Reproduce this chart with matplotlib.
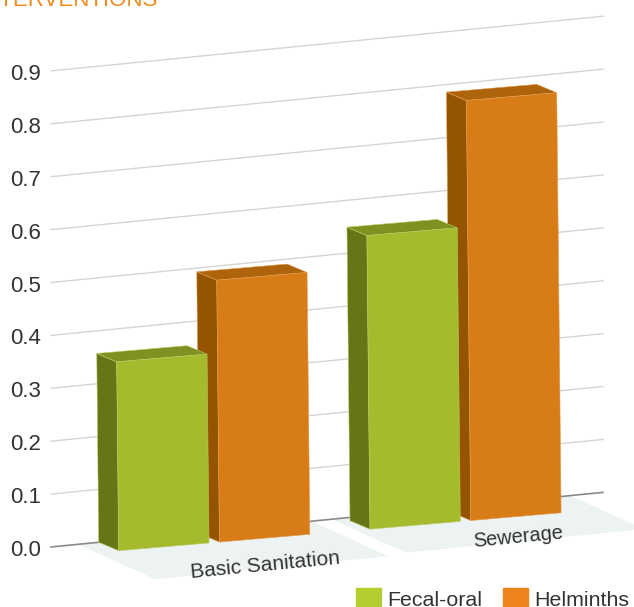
#!/usr/bin/env python
import numpy as np
import matplotlib.pyplot as plt
from matplotlib.patches import Patch
from matplotlib.transforms import ScaledTranslation

plt.rc('font', family=['Liberation Sans', 'DejaVu Sans'], size=15)

categories = ["Basic Sanitation", "Sewerage"]
fecal_oral = [0.357, 0.555]
helminths = [0.495, 0.794]
ticks = [0.0, 0.1, 0.2, 0.3, 0.4, 0.5, 0.6, 0.7, 0.8, 0.9]

# the fake 3d look, everything in figure pixels
W, H = 634, 607
ZERO_Y = 547.0     # pixel row of value 0 at the left end of the axis
PX_PER_UNIT = 529.0
GRID_SLOPE = 0.099
BAR_SLOPE = 0.0857
LEAN = 5.5
DX, DY = 20.0, 8.4
BAR_W = 90.3
group_x = [98.7, 350.0]
HELM_SHIFT = 100.8

fig = plt.figure(figsize=(W/100, H/100), dpi=100)
ax = fig.add_axes([0, 0, 1, 1])
ax.set_xlim(0, W)
ax.set_ylim((ZERO_Y-H)/PX_PER_UNIT, ZERO_Y/PX_PER_UNIT)
for s in ax.spines.values():
    s.set_visible(False)
ax.patch.set_alpha(0)

ax.set_xticks([])
ax.set_yticks(ticks)
ax.set_yticklabels(["%.1f" % t for t in ticks], color='#333333', fontsize=16)
ax.tick_params(axis='y', length=0, pad=-29.5)
# tick labels sit a pixel lower than the lines
nudge = ScaledTranslation(0, -1/72*0.75, fig.dpi_scale_trans)
for lab in ax.get_yticklabels():
    lab.set_transform(lab.get_transform() + nudge)


def wall(x, v):
    # point on the back wall
    return x, v + GRID_SLOPE*(x-51)/PX_PER_UNIT


def corner(x, v, d):
    # bar corner, d=0 at the back and d=1 at the front
    base = 542.3 - BAR_SLOPE*(x-group_x[0]) + d*DY
    return x + d*DX - LEAN*v, v + (ZERO_Y-base)/PX_PER_UNIT


def bar3d(x, v, front, side, top, edge):
    a = corner(x, 0, 0); b = corner(x, v, 0)
    c = corner(x+BAR_W, v, 0)
    e = corner(x, 0, 1); f = corner(x, v, 1)
    g = corner(x+BAR_W, v, 1); h = corner(x+BAR_W, 0, 1)
    for pts, col in (([a, b, f, e], side), ([b, c, g, f], top), ([e, f, g, h], front)):
        xs, ys = zip(*pts)
        ax.fill(xs, ys, facecolor=col, edgecolor=edge, linewidth=0.4, zorder=3)


# floor under each group
floor_x = [(78.3, 311.6), (331.7, 570.0)]
floor_d = [(76.7, 35.0), (74.0, 33.5)]
for (x0, x1), (fx, fy) in zip(floor_x, floor_d):
    p0 = wall(x0, 0); p1 = wall(x1, 0)
    ax.fill([p0[0], p0[0]+fx, p1[0]+fx, p1[0]],
            [p0[1], p0[1]-fy/PX_PER_UNIT, p1[1]-fy/PX_PER_UNIT, p1[1]],
            color='#EDF2F3', linewidth=0, zorder=1)

# grid on the wall
for t in ticks:
    p0 = wall(51, t); p1 = wall(603, t)
    if t == 0:
        ax.plot([p0[0], p1[0]], [p0[1], p1[1]], color='#8A8A8A', lw=1.2, zorder=2)
    else:
        ax.plot([p0[0], p1[0]], [p0[1], p1[1]], color='#D4D4D4', lw=1.0, zorder=2)

for i in range(len(categories)):
    bar3d(group_x[i]+HELM_SHIFT, helminths[i], '#D77C17', '#945400', '#AE640A', '#E39C50')
    bar3d(group_x[i], fecal_oral[i], '#A5BA2D', '#667516', '#7F9120', '#BBCB62')

# category labels lie on the floor
label_px = [(265.5, 565.5), (518.5, 537.5)]
label_size = [15, 14.4]
for name, (lx, ly), fs in zip(categories, label_px, label_size):
    ax.text(lx, (ZERO_Y-ly)/PX_PER_UNIT, name, color='#333333', fontsize=fs,
            rotation=5.5, rotation_mode='anchor', ha='center', va='center', zorder=5)

# what is left of the cropped title
ax.text(157, (ZERO_Y-5.5)/PX_PER_UNIT, "INTERVENTIONS", color='#EE8A1E', fontsize=16,
        ha='right', va='baseline')

handles = [Patch(color='#B3CE2F', label='Fecal-oral'), Patch(color='#EC831B', label='Helminths')]
fig.legend(handles=handles, ncol=2, frameon=False, fontsize=15.4,
           loc='lower left', bbox_to_anchor=(356/W, -3/H), borderpad=0, borderaxespad=0,
           handlelength=1.17, handleheight=1.17, handletextpad=0.31, columnspacing=0.93,
           labelcolor='#333333')

plt.savefig("out.png", dpi=100)
print("Done!")
